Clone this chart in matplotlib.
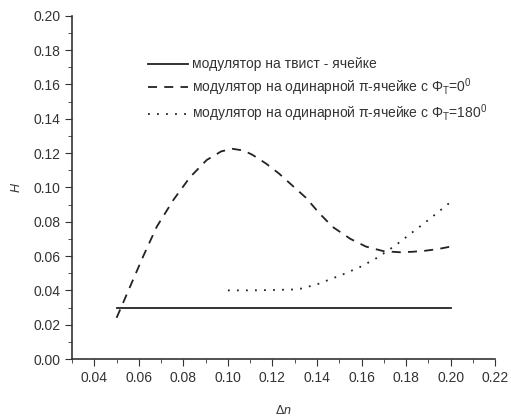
import numpy as np
import matplotlib
matplotlib.use("Agg")
import matplotlib.pyplot as plt
from matplotlib.ticker import MultipleLocator, FormatStrFormatter

plt.rcParams['font.family'] = ['Liberation Sans', 'DejaVu Sans']
plt.rcParams['mathtext.fontset'] = 'custom'
plt.rcParams['mathtext.rm'] = 'Liberation Sans'
plt.rcParams['mathtext.it'] = 'Liberation Sans:italic'

# данные
dn_twist = [0.05, 0.20]
h_twist = [0.03, 0.03]

dn_pi0 = [0.050, 0.056, 0.062, 0.068, 0.0755, 0.083, 0.0905, 0.097, 0.102,
          0.107, 0.111, 0.117, 0.123, 0.129, 0.135, 0.141, 0.147, 0.155,
          0.162, 0.170, 0.1775, 0.183, 0.188, 0.194, 0.200]
h_pi0 = [0.024, 0.042, 0.060, 0.077, 0.0927, 0.106, 0.116, 0.121, 0.1225,
         0.1215, 0.119, 0.114, 0.108, 0.101, 0.094, 0.085, 0.077, 0.070,
         0.0655, 0.0628, 0.0622, 0.0625, 0.063, 0.064, 0.0655]

dn_pi180 = [0.100, 0.110, 0.120, 0.129, 0.1327, 0.140, 0.147, 0.152, 0.160,
            0.167, 0.175, 0.182, 0.190, 0.1995]
h_pi180 = [0.040, 0.040, 0.0402, 0.0405, 0.041, 0.0435, 0.047, 0.0495, 0.054,
           0.059, 0.066, 0.073, 0.081, 0.091]

labels = ['модулятор на твист - ячейке',
          'модулятор на одинарной π-ячейке с Φ$_{\\mathrm{T}}$=0$^{0}$',
          'модулятор на одинарной π-ячейке с Φ$_{\\mathrm{T}}$=180$^{0}$']

fig = plt.figure(figsize=(5.11, 4.16), dpi=100)
ax = fig.add_axes([0.141, 0.137, 0.828, 0.825])

ax.plot(dn_twist, h_twist, color='#222222', lw=1.3, label=labels[0])
ax.plot(dn_pi0, h_pi0, color='#222222', lw=1.3, dashes=(5, 4), label=labels[1])
ax.plot(dn_pi180, h_pi180, color='#222222', lw=1.3, dashes=(1, 4), label=labels[2])

ax.set_xlim(0.03, 0.22)
ax.set_ylim(0.0, 0.20)
ax.xaxis.set_major_locator(MultipleLocator(0.02))
ax.xaxis.set_minor_locator(MultipleLocator(0.01))
ax.yaxis.set_major_locator(MultipleLocator(0.02))
ax.yaxis.set_minor_locator(MultipleLocator(0.01))
ax.xaxis.set_major_formatter(FormatStrFormatter('%.2f'))
ax.yaxis.set_major_formatter(FormatStrFormatter('%.2f'))
ax.tick_params(which='both', direction='out', colors='#333333', labelcolor='#333333')
ax.tick_params(which='major', length=5, labelsize=10)
ax.tick_params(which='minor', length=3)
for s in ['top', 'right']:
    ax.spines[s].set_visible(False)
for s in ['left', 'bottom']:
    ax.spines[s].set_color('#333333')
    ax.spines[s].set_linewidth(1.2)

ax.set_xlabel('Δ$\\it{n}$', fontsize=9, color='#333333', labelpad=14)
ax.set_ylabel('$\\it{H}$', fontsize=9, color='#333333', labelpad=7)

ax.legend(loc='upper left', bbox_to_anchor=(0.15, 0.915), frameon=False,
          fontsize=10, handlelength=2.9, handletextpad=0.25, labelspacing=0.35,
          labelcolor='#333333')

fig.savefig('out.png', dpi=100)
